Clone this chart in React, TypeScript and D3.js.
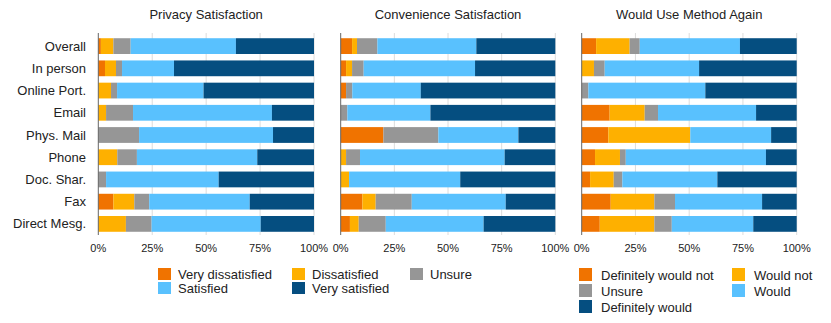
import React from 'react';
import * as d3 from 'd3';

// row labels (top to bottom)
const categories = ['Overall', 'In person', 'Online Port.', 'Email', 'Phys. Mail', 'Phone', 'Doc. Shar.', 'Fax', 'Direct Mesg.'];
const tickValues = [0, 25, 50, 75, 100];

// Privacy Satisfaction (%)
const privacyVeryDissatisfied = [1.2, 3.1, 0, 0, 0, 0, 0, 7.0, 0];
const privacyDissatisfied = [5.8, 5.1, 5.9, 3.6, 0, 8.8, 0, 9.7, 12.8];
const privacyUnsure = [8.0, 2.8, 2.8, 12.5, 18.9, 9.1, 3.6, 6.9, 11.9];
const privacySatisfied = [48.8, 24.1, 40.1, 64.4, 62.1, 55.8, 52.2, 46.6, 50.6];
const privacyVerySatisfied = [36.2, 64.9, 51.2, 19.5, 19.0, 26.3, 44.2, 29.8, 24.7];

// Convenience Satisfaction (%)
const convVeryDissatisfied = [5.3, 2.5, 2.5, 0, 19.9, 0, 0, 10.1, 4.3];
const convDissatisfied = [2.3, 2.8, 0, 0, 0, 2.5, 3.9, 6.2, 4.1];
const convUnsure = [9.5, 5.4, 2.9, 3.1, 25.6, 6.5, 0, 16.8, 12.6];
const convSatisfied = [46.1, 51.9, 31.9, 38.7, 37.3, 67.4, 51.8, 43.8, 45.6];
const convVerySatisfied = [36.8, 37.4, 62.7, 58.2, 17.2, 23.6, 44.3, 23.1, 33.4];

// Would Use Method Again (%)
const againDefinitelyNot = [6.7, 0, 0, 13.0, 12.4, 6.2, 3.9, 13.5, 8.4];
const againWouldNot = [15.6, 5.7, 0, 16.3, 38.1, 11.6, 11.0, 20.3, 25.4];
const againUnsure = [4.7, 5.0, 3.1, 6.2, 0, 2.7, 4.0, 9.6, 8.1];
const againWould = [46.6, 43.9, 54.4, 45.6, 37.6, 65.2, 44.2, 40.5, 37.9];
const againDefinitely = [26.4, 45.4, 42.5, 18.9, 11.9, 14.3, 36.9, 16.1, 20.2];

const colors = ['#f07300', '#feb000', '#969696', '#59c1fe', '#054e80'];
const font = '"Liberation Sans", Arial, Helvetica, sans-serif';

type Panel = { title: string; x0: number; x1: number; series: number[][]; showLabels: boolean };

const panels: Panel[] = [
  { title: 'Privacy Satisfaction', x0: 98.3, x1: 314, showLabels: true,
    series: [privacyVeryDissatisfied, privacyDissatisfied, privacyUnsure, privacySatisfied, privacyVerySatisfied] },
  { title: 'Convenience Satisfaction', x0: 340.7, x1: 555.3, showLabels: false,
    series: [convVeryDissatisfied, convDissatisfied, convUnsure, convSatisfied, convVerySatisfied] },
  { title: 'Would Use Method Again', x0: 581.7, x1: 796.7, showLabels: false,
    series: [againDefinitelyNot, againWouldNot, againUnsure, againWould, againDefinitely] },
];

const legend1 = [
  { label: 'Very dissatisfied', c: 0, x: 158, y: 268 },
  { label: 'Dissatisfied', c: 1, x: 292, y: 268 },
  { label: 'Unsure', c: 2, x: 410, y: 268 },
  { label: 'Satisfied', c: 3, x: 158, y: 282 },
  { label: 'Very satisfied', c: 4, x: 292, y: 282 },
];
const legend2 = [
  { label: 'Definitely would not', c: 0, x: 579, y: 268 },
  { label: 'Would not', c: 1, x: 732, y: 268 },
  { label: 'Unsure', c: 2, x: 579, y: 284 },
  { label: 'Would', c: 3, x: 732, y: 284 },
  { label: 'Definitely would', c: 4, x: 579, y: 300 },
];

const yScale = d3.scaleBand<string>().domain(categories).range([35, 235]).paddingInner(0.29).paddingOuter(0.145);

const PanelChart = ({ p }: { p: Panel }) => {
  const x = d3.scaleLinear().domain([0, 100]).range([p.x0, p.x1]);
  const keys = p.series.map((_, i) => 'k' + i);
  const rows = categories.map((c, j) => {
    const r: any = { cat: c };
    p.series.forEach((s, i) => (r['k' + i] = s[j]));
    return r;
  });
  const stacked = d3.stack<any>().keys(keys)(rows);
  const [top, bottom] = yScale.range();
  return (
    <g>
      <text x={(p.x0 + p.x1) / 2} y={19} textAnchor="middle" fontSize={13} fill="#222">{p.title}</text>
      {tickValues.filter(t => t > 0).map(t => (
        <line key={t} x1={x(t)} x2={x(t)} y1={top - 2} y2={bottom} stroke="#dcdcdc" strokeWidth={1} />
      ))}
      {stacked.map((layer, i) => (
        <g key={i} fill={colors[i]}>
          {layer.map((d, j) => (
            <rect key={j} x={x(d[0])} y={yScale(categories[j])} width={Math.max(0, x(d[1]) - x(d[0]))} height={yScale.bandwidth()} />
          ))}
        </g>
      ))}
      <line x1={x(0)} x2={x(0)} y1={top - 2} y2={bottom} stroke="#666" strokeWidth={1} />
      {tickValues.map(t => (
        <text key={t} x={x(t)} y={252} textAnchor="middle" fontSize={11} fill="#222">{t + '%'}</text>
      ))}
      {p.showLabels && categories.map(c => (
        <text key={c} x={86} y={(yScale(c) as number) + yScale.bandwidth() / 2} dy="0.35em" textAnchor="end" fontSize={13} fill="#222">{c}</text>
      ))}
    </g>
  );
};

const App = () => (
  <svg width={831} height={323} style={{ position: 'absolute', left: 0, top: 0, fontFamily: font, background: '#fff' }}>
    {panels.map(p => <PanelChart key={p.title} p={p} />)}
    {legend1.map(l => (
      <g key={l.label}>
        <rect x={l.x} y={l.y} width={13} height={12} fill={colors[l.c]} />
        <text x={l.x + 20} y={l.y + 6} dy="0.35em" fontSize={13} fill="#222">{l.label}</text>
      </g>
    ))}
    {legend2.map(l => (
      <g key={l.label}>
        <rect x={l.x} y={l.y} width={13} height={13} fill={colors[l.c]} />
        <text x={l.x + 22} y={l.y + 7} dy="0.35em" fontSize={13} fill="#222">{l.label}</text>
      </g>
    ))}
  </svg>
);

export default App;
